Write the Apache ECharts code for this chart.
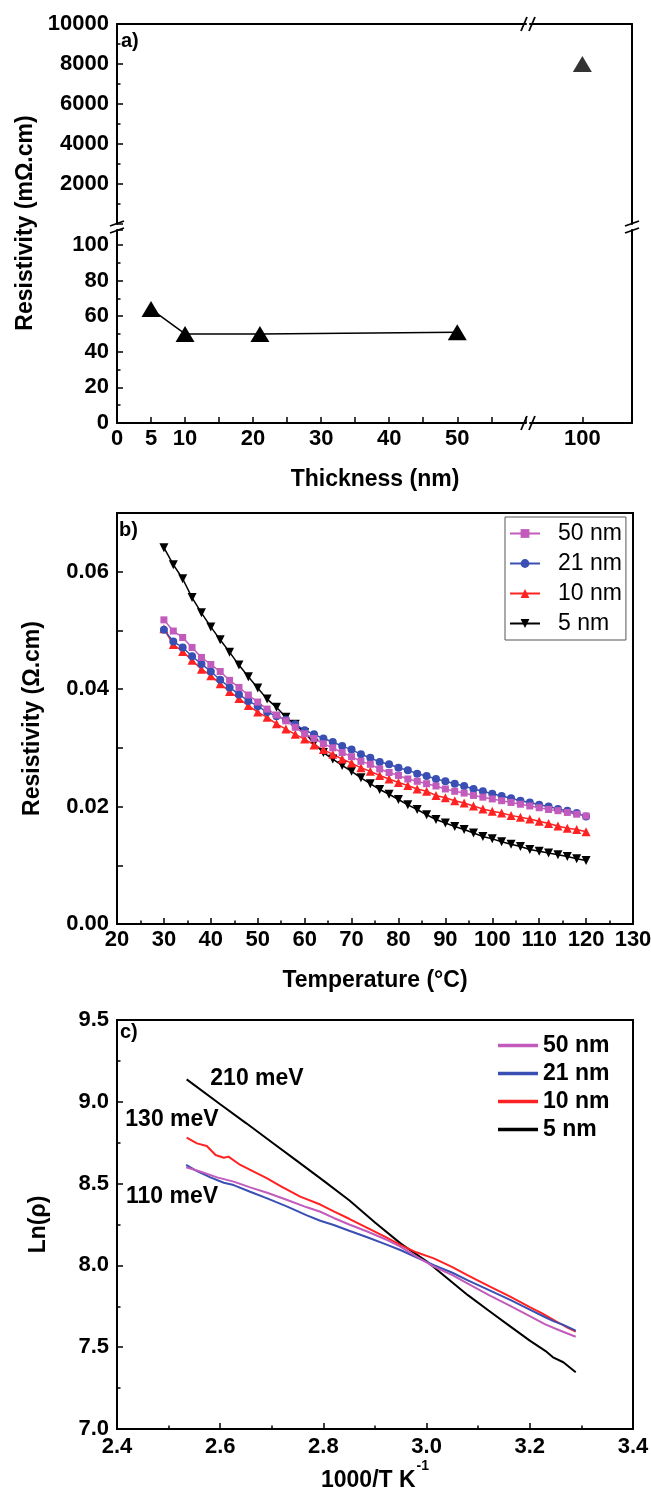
<!DOCTYPE html>
<html>
<head>
<meta charset="utf-8">
<title>Resistivity vs thickness and temperature</title>
<script src="https://cdn.jsdelivr.net/npm/echarts@6.0.0/dist/echarts.min.js"></script>
<style>
    html, body { margin: 0; padding: 0; background: #fff; }
    #chart { width: 651px; height: 1500px; }
</style>
</head>
<body>
<div id="chart"></div>
<script>
// ---- a) resistivity vs film thickness (mOhm.cm) ----
var thickness = [5, 10, 21, 50];
var resThin = [64, 50, 50, 51];
var thickOutlier = [100];
var resOutlier = [8000];
var thickLabels = [0, 5, 10, 20, 30, 40, 50];
var thickLabelsRight = [100];

// ---- b) resistivity vs temperature (Ohm.cm) ----
var temps = [30, 32, 34, 36, 38, 40, 42, 44, 46, 48,
    50, 52, 54, 56, 58, 60, 62, 64, 66, 68,
    70, 72, 74, 76, 78, 80, 82, 84, 86, 88,
    90, 92, 94, 96, 98, 100, 102, 104, 106, 108,
    110, 112, 114, 116, 118, 120];
var rho50 = [.0518, .0499, .0488, .0471, .0454, .0442, .0430, .0415, .0403, .0390,
    .0378, .0366, .0356, .0346, .0335, .0324, .0316, .0307, .0300, .0292,
    .0285, .0277, .0272, .0264, .0258, .0253, .0247, .0243, .0239, .0235,
    .0230, .0226, .0223, .0219, .0216, .0213, .0210, .0207, .0204, .0201,
    .0198, .0195, .0193, .0190, .0187, .0184];
var rho21 = [.0501, .0481, .0471, .0456, .0443, .0430, .0416, .0403, .0391, .0380,
    .0371, .0361, .0354, .0348, .0340, .0330, .0323, .0316, .0310, .0303,
    .0297, .0289, .0283, .0276, .0272, .0266, .0262, .0256, .0252, .0247,
    .0243, .0239, .0235, .0230, .0226, .0222, .0218, .0214, .0210, .0207,
    .0203, .0200, .0196, .0193, .0189, .0183];
var rho10 = [.0503, .0476, .0464, .0449, .0434, .0423, .0409, .0396, .0384, .0372,
    .0361, .0352, .0341, .0332, .0323, .0315, .0305, .0297, .0289, .0281,
    .0274, .0266, .0260, .0253, .0247, .0241, .0236, .0230, .0226, .0219,
    .0215, .0210, .0206, .0201, .0196, .0192, .0189, .0185, .0182, .0179,
    .0175, .0171, .0167, .0163, .0161, .0157];
var rho5 = [.0641, .0612, .0588, .0556, .0530, .0506, .0484, .0463, .0441, .0421,
    .0402, .0383, .0369, .0352, .0340, .0326, .0308, .0292, .0281, .0270,
    .0260, .0249, .0239, .0229, .0221, .0212, .0203, .0195, .0186, .0178,
    .0172, .0166, .0161, .0155, .0149, .0145, .0140, .0136, .0132, .0127,
    .0124, .0121, .0118, .0115, .0111, .0108];

// ---- c) Arrhenius plot, ln(rho) vs 1000/T ----
var inv50 = [2.534, 2.561, 2.594, 2.626, 2.658, 2.691, 2.730, 2.768, 2.794, 2.820, 2.850, 2.885,
    2.92, 2.949, 2.98, 3.014, 3.05, 3.079, 3.12, 3.162, 3.20, 3.23, 3.256, 3.289];
var ln50 = [8.600, 8.574, 8.538, 8.512, 8.477, 8.444, 8.400, 8.355, 8.328, 8.290, 8.250, 8.207,
    8.160, 8.115, 8.055, 7.993, 7.940, 7.890, 7.820, 7.752, 7.690, 7.640, 7.605, 7.564];
var inv21 = [2.534, 2.555, 2.581, 2.607, 2.626, 2.658, 2.691, 2.730, 2.768, 2.794, 2.820, 2.850, 2.885,
    2.92, 2.949, 2.98, 3.014, 3.05, 3.079, 3.12, 3.162, 3.20, 3.23, 3.248, 3.264, 3.289];
var ln21 = [8.614, 8.577, 8.538, 8.505, 8.491, 8.450, 8.410, 8.359, 8.306, 8.273, 8.247, 8.212, 8.172,
    8.130, 8.094, 8.050, 8.002, 7.955, 7.910, 7.850, 7.789, 7.730, 7.683, 7.656, 7.638, 7.601];
var inv10 = [2.535, 2.555, 2.574, 2.591, 2.607, 2.616, 2.639, 2.665, 2.691, 2.717, 2.755, 2.794, 2.82, 2.85,
    2.885, 2.92, 2.949, 2.98, 3.014, 3.05, 3.079, 3.12, 3.162, 3.20, 3.224, 3.25, 3.27, 3.289];
var ln10 = [8.781, 8.746, 8.730, 8.675, 8.658, 8.665, 8.614, 8.573, 8.532, 8.485, 8.420, 8.372, 8.330, 8.285,
    8.230, 8.175, 8.125, 8.080, 8.043, 7.990, 7.941, 7.875, 7.809, 7.745, 7.707, 7.660, 7.625, 7.595];
var inv5 = [2.535, 2.60, 2.65, 2.70, 2.75, 2.80, 2.85, 2.90, 2.95, 3.00, 3.03, 3.08, 3.12, 3.16,
    3.20, 3.23, 3.245, 3.265, 3.289];
var ln5 = [9.137, 8.985, 8.870, 8.753, 8.636, 8.518, 8.398, 8.262, 8.133, 8.025, 7.948, 7.818, 7.724, 7.632,
    7.540, 7.478, 7.438, 7.408, 7.347];

var FONT = '"Liberation Sans", Arial, Helvetica, sans-serif';
var C50 = '#c25bbb', C21 = '#3a4fb3', C10 = '#ff2222', C5 = '#000';

function pairs(xs, ys) {
    return xs.map(function (x, i) { return [x, ys[i]]; });
}

var axisLine = { show: true, onZero: false, lineStyle: { color: '#000', width: 2 } };
function tick() {
    return { show: true, inside: true, length: 6, lineStyle: { color: '#000', width: 1.5 } };
}
function minor() {
    return { show: true, splitNumber: 2, length: 3.5, lineStyle: { color: '#000', width: 1.5 } };
}
function label(margin, fmt) {
    return { show: true, color: '#000', fontFamily: FONT, fontWeight: 'bold', fontSize: 22, margin: margin, formatter: fmt };
}
function bare(extra) {
    var o = {
        type: 'value', axisLine: axisLine, axisTick: { show: false },
        axisLabel: { show: false }, splitLine: { show: false }
    };
    for (var k in extra) o[k] = extra[k];
    return o;
}
var nameStyle = { color: '#000', fontFamily: FONT, fontWeight: 'bold', fontSize: 23 };

// break marks "//" for panel a
function slash(x1, y1, x2, y2) {
    return { type: 'line', shape: { x1: x1, y1: y1, x2: x2, y2: y2 }, style: { stroke: '#000', lineWidth: 1.8 }, z: 100 };
}
function hBreak(x, y) { return [slash(x - 7, y + 7, x - 1, y - 7), slash(x + 1, y + 7, x + 7, y - 7)]; }
function vBreak(x, y) { return [slash(x - 7, y - 1, x + 7, y - 6), slash(x - 7, y + 6, x + 7, y + 1)]; }
function txt(s, x, y, size, align, rot) {
    return {
        type: 'text', x: x, y: y, rotation: rot || 0, z: 100,
        style: {
            text: s, fill: '#000', font: 'bold ' + size + 'px ' + FONT,
            textAlign: align || 'left', textVerticalAlign: 'middle', align: align || 'left', verticalAlign: 'middle'
        }
    };
}

var chart = echarts.init(document.getElementById('chart'), null, { renderer: 'canvas' });

var option = {
    animation: false,
    backgroundColor: '#fff',
    grid: [
        { left: 117, top: 24, width: 409, height: 200, outerBoundsMode: 'none' },
        { left: 530, top: 24, width: 102, height: 200, outerBoundsMode: 'none' },
        { left: 117, top: 230, width: 409, height: 193, outerBoundsMode: 'none' },
        { left: 530, top: 230, width: 102, height: 193, outerBoundsMode: 'none' },
        { left: 117, top: 513, width: 516, height: 411, show: true, borderColor: '#000', borderWidth: 2, outerBoundsMode: 'none' },
        { left: 117, top: 1020, width: 516, height: 409, show: true, borderColor: '#000', borderWidth: 2, outerBoundsMode: 'none' }
    ],
    xAxis: [
        bare({ gridIndex: 0, position: 'top', min: 0, max: 60.1 }),
        bare({ gridIndex: 1, position: 'top', min: 92.3, max: 107.3 }),
        bare({
            gridIndex: 2, position: 'bottom', min: 0, max: 60.1, interval: 5,
            axisTick: tick(),
            axisLabel: label(5, function (v) { return thickLabels.indexOf(v) >= 0 ? String(v) : ''; })
        }),
        bare({
            gridIndex: 3, position: 'bottom', min: 92.3, max: 107.3,
            axisTick: Object.assign(tick(), { customValues: thickLabelsRight }),
            axisLabel: Object.assign(label(5), { customValues: thickLabelsRight })
        }),
        bare({
            gridIndex: 4, min: 20, max: 130, interval: 10,
            axisTick: tick(), minorTick: minor(), axisLabel: label(5),
            name: 'Temperature (°C)', nameLocation: 'middle', nameGap: 45, nameTextStyle: nameStyle
        }),
        bare({
            gridIndex: 5, min: 2.4, max: 3.4, interval: 0.2,
            axisTick: tick(), minorTick: minor(),
            axisLabel: label(7, function (v) { return v.toFixed(1); }),
            name: '{a|1000/T K}{s|-1}', nameLocation: 'middle', nameGap: 29,
            nameTextStyle: {
                rich: {
                    a: nameStyle,
                    s: { color: '#000', fontFamily: FONT, fontWeight: 'bold', fontSize: 14, padding: [0, 0, 30, 1] }
                }
            }
        })
    ],
    yAxis: [
        bare({
            gridIndex: 0, position: 'left', min: 0, max: 10000, interval: 2000,
            axisTick: tick(), minorTick: minor(),
            axisLabel: label(8, function (v) { return v === 0 ? '' : String(v); })
        }),
        bare({ gridIndex: 1, position: 'right', min: 0, max: 10000 }),
        bare({
            gridIndex: 2, position: 'left', min: 0, max: 108.4, interval: 20,
            axisTick: tick(), minorTick: minor(),
            axisLabel: label(8, function (v) { return v % 20 === 0 ? String(v) : ''; })
        }),
        bare({ gridIndex: 3, position: 'right', min: 0, max: 108.4 }),
        bare({
            gridIndex: 4, min: 0, max: 0.07, interval: 0.01,
            axisTick: tick(),
            axisLabel: label(8, function (v) { return Math.round(v * 100) % 2 === 0 ? v.toFixed(2) : ''; }),
            name: 'Resistivity (Ω.cm)', nameLocation: 'middle', nameGap: 73, nameTextStyle: nameStyle
        }),
        bare({
            gridIndex: 5, min: 7, max: 9.5, interval: 0.5,
            axisTick: tick(), minorTick: minor(),
            axisLabel: label(8, function (v) { return v.toFixed(1); }),
            name: 'Ln(ρ)', nameLocation: 'middle', nameGap: 67, nameTextStyle: nameStyle
        })
    ],
    legend: [
        {
            data: ['50 nm', '21 nm', '10 nm', '5 nm'],
            orient: 'vertical', left: 505, top: 517,
            itemWidth: 30, itemHeight: 11, itemGap: 7, padding: [5, 4, 5, 4],
            borderColor: '#555', borderWidth: 1, selectedMode: false,
            textStyle: { color: '#000', fontFamily: FONT, fontSize: 23, padding: [0, 0, 0, 13] }
        },
        {
            data: ['50 nm (ln)', '21 nm (ln)', '10 nm (ln)', '5 nm (ln)'],
            orient: 'vertical', left: 498, top: 1034,
            icon: 'rect', itemWidth: 40, itemHeight: 3.5, itemGap: 5, padding: 0, selectedMode: false,
            formatter: function (n) { return n.replace(' (ln)', ''); },
            textStyle: { color: '#000', fontFamily: FONT, fontWeight: 'bold', fontSize: 23 }
        }
    ],
    series: [
        {
            type: 'line', xAxisIndex: 2, yAxisIndex: 2, data: pairs(thickness, resThin),
            symbol: 'triangle', symbolSize: [19, 16], itemStyle: { color: '#000' },
            lineStyle: { color: '#000', width: 1.5 }
        },
        {
            type: 'scatter', xAxisIndex: 1, yAxisIndex: 1, data: pairs(thickOutlier, resOutlier),
            symbol: 'triangle', symbolSize: [19, 16], itemStyle: { color: '#000' }
        },

        { name: '5 nm', type: 'line', xAxisIndex: 4, yAxisIndex: 4, data: pairs(temps, rho5),
            symbol: 'triangle', symbolRotate: 180, symbolSize: 9, itemStyle: { color: C5 }, lineStyle: { color: C5, width: 1.5 } },
        { name: '10 nm', type: 'line', xAxisIndex: 4, yAxisIndex: 4, data: pairs(temps, rho10),
            symbol: 'triangle', symbolSize: 9, itemStyle: { color: C10 }, lineStyle: { color: C10, width: 1.5 } },
        { name: '21 nm', type: 'line', xAxisIndex: 4, yAxisIndex: 4, data: pairs(temps, rho21),
            symbol: 'circle', symbolSize: 8, itemStyle: { color: C21 }, lineStyle: { color: C21, width: 1.5 } },
        { name: '50 nm', type: 'line', xAxisIndex: 4, yAxisIndex: 4, data: pairs(temps, rho50),
            symbol: 'rect', symbolSize: 7, itemStyle: { color: C50 }, lineStyle: { color: C50, width: 1.5 } },

        { name: '5 nm (ln)', type: 'line', xAxisIndex: 5, yAxisIndex: 5, data: pairs(inv5, ln5),
            symbol: 'none', itemStyle: { color: C5 }, lineStyle: { color: C5, width: 2 } },
        { name: '10 nm (ln)', type: 'line', xAxisIndex: 5, yAxisIndex: 5, data: pairs(inv10, ln10),
            symbol: 'none', itemStyle: { color: C10 }, lineStyle: { color: C10, width: 2 } },
        { name: '21 nm (ln)', type: 'line', xAxisIndex: 5, yAxisIndex: 5, data: pairs(inv21, ln21),
            symbol: 'none', itemStyle: { color: C21 }, lineStyle: { color: C21, width: 2 } },
        { name: '50 nm (ln)', type: 'line', xAxisIndex: 5, yAxisIndex: 5, data: pairs(inv50, ln50),
            symbol: 'none', itemStyle: { color: C50 }, lineStyle: { color: C50, width: 2 } }
    ],
    graphic: [
        txt('a)', 121, 41, 20),
        txt('b)', 119, 530, 20),
        txt('c)', 120, 1032, 20),
        txt('Resistivity (mΩ.cm)', 26, 223, 23, 'center', Math.PI / 2),
        txt('Thickness (nm)', 375, 480, 23, 'center'),
        txt('210 meV', 257, 1079, 23, 'center'),
        txt('130 meV', 172, 1120, 23, 'center'),
        txt('110 meV', 172, 1197, 23, 'center')
    ].concat(hBreak(528, 24), hBreak(528, 423), vBreak(117, 227), vBreak(632, 227))
};

chart.setOption(option);
</script>
</body>
</html>
